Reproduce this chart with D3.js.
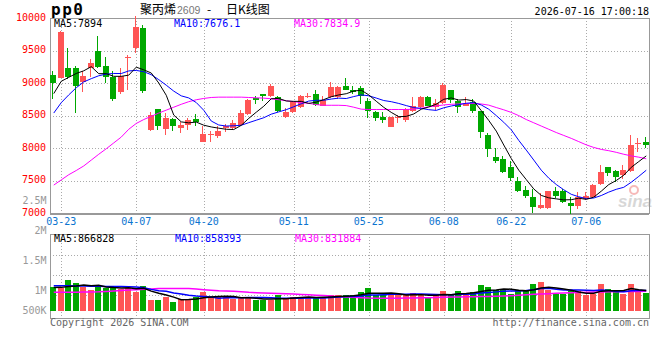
<!DOCTYPE html>
<html>
<head>
<meta charset="utf-8">
<script src="https://cdn.jsdelivr.net/npm/d3@7"></script>
<style>
body{margin:0;background:#fff}
svg text{font-family:"DejaVu Sans Mono",monospace;font-size:10px}
</style>
</head>
<body>
<script>
// trading days shown (03-20 .. 07-16)
const dates = ["03-20","03-23","03-24","03-25","03-26","03-27","03-30","03-31","04-01","04-02","04-03",
  "04-07","04-08","04-09","04-10","04-13","04-14","04-15","04-16","04-17","04-20","04-21","04-22","04-23","04-24",
  "04-27","04-28","04-29","04-30","05-06","05-07","05-08","05-11","05-12","05-13","05-14","05-15","05-18","05-19",
  "05-20","05-21","05-22","05-25","05-26","05-27","05-28","05-29","06-01","06-02","06-03","06-04","06-05","06-08",
  "06-09","06-10","06-11","06-12","06-15","06-16","06-17","06-18","06-22","06-23","06-24","06-25","06-26","06-29",
  "06-30","07-01","07-02","07-03","07-06","07-07","07-08","07-09","07-10","07-13","07-14","07-15","07-16"]
const tickDates = ["03-23","04-07","04-20","05-11","05-25","06-08","06-22","07-06"]
const priceTicks = [7000,7500,8000,8500,9000,9500,10000]
const volTicks = [500000,1000000,1500000,2000000,2500000]
const volTickText = ["500K","1M","1.5M","2M","2.5M"]

const open = [9126,9074,9238,9238,9023,9233,9500,9269,9100,8869,9390,9545,9849,8279,8602,8294,8448,8315,8356,8448,
  8100,8200,8192,8305,8305,8356,8525,8766,8833,8797,8792,8474,8551,8628,8795,8833,8654,8782,8782,8961,
  8900,8931,8731,8561,8484,8320,8470,8438,8577,8628,8792,8628,8695,8900,8731,8654,8715,8577,8207,7869,
  7833,7715,7499,7361,7243,7079,7074,7346,7346,7156,7105,7217,7243,7448,7715,7643,7586,7653,8070,8089]
const high = [9192,9800,9550,9270,9192,9372,9731,9397,9192,9233,9440,10040,9900,8551,8610,8536,8458,8407,8458,8530,
  8346,8269,8346,8371,8438,8592,8756,8807,8840,8987,8807,8618,8730,8823,8850,8900,8807,9023,8961,9085,
  8961,8951,8766,8577,8551,8479,8515,8618,8782,8807,8800,8756,9002,8900,8756,8792,8756,8577,8233,8002,
  7884,7807,7561,7422,7371,7310,7346,7397,7371,7243,7320,7330,7448,7745,7715,7669,7745,8207,8151,8166]
const low = [8760,9074,9064,8536,8869,9100,9228,8997,8720,8833,8890,9460,8849,8269,8284,8207,8259,8228,8284,8346,
  8100,8089,8151,8243,8294,8356,8510,8679,8730,8782,8551,8459,8541,8613,8770,8643,8643,8766,8756,8895,
  8833,8679,8459,8423,8382,8320,8387,8397,8551,8613,8643,8592,8679,8695,8536,8654,8536,8151,7858,7766,
  7612,7489,7320,7233,7002,7064,7064,7233,7156,6990,7064,7207,7233,7433,7576,7474,7525,7638,7946,7997]
const close = [8997,9792,9090,8962,9115,9315,9254,9090,8756,9115,9405,9870,8884,8510,8346,8459,8346,8361,8433,8407,
  8218,8210,8269,8346,8387,8541,8746,8746,8807,8961,8566,8551,8715,8807,8805,8664,8746,8936,8946,8900,
  8869,8807,8577,8459,8428,8479,8478,8602,8643,8792,8654,8695,8977,8746,8628,8695,8577,8243,7987,7807,
  7628,7535,7345,7258,7089,7130,7346,7269,7176,7105,7243,7258,7438,7638,7612,7561,7658,8053,8078,8048]
const volume = [1025000,956000,1311000,1196000,999000,884000,1055000,956000,1055000,914000,956000,811000,1055000,457000,457000,572000,371000,500000,500000,572000,
  811000,572000,572000,572000,500000,572000,542000,457000,457000,457000,658000,542000,598000,572000,572000,572000,572000,658000,658000,658000,
  658000,798000,969000,658000,658000,713000,658000,658000,756000,658000,572000,658000,841000,713000,841000,658000,798000,1097000,1012000,884000,
  884000,713000,884000,884000,1140000,1225000,884000,713000,713000,841000,841000,658000,713000,1140000,927000,841000,713000,1140000,884000,756000]

const ma5 = [8840,9030,9090,9150,9191,9255,9147,9147,9106,9106,9124,9247,9206,9157,9003,8814,8509,8404,8389,8401,
  8353,8326,8307,8290,8286,8351,8458,8553,8645,8760,8765,8726,8720,8720,8689,8708,8747,8792,8819,8838,
  8879,8892,8820,8722,8628,8550,8484,8489,8526,8599,8634,8677,8752,8773,8740,8748,8725,8578,8426,8262,
  8048,7840,7660,7515,7371,7271,7234,7218,7202,7205,7228,7210,7244,7336,7438,7501,7581,7704,7792,7880]
const ma10 = [8540,8700,8820,8930,9020,9070,9115,9140,9150,9149,9189,9197,9177,9131,9055,8969,8878,8805,8773,8702,
  8583,8417,8356,8340,8344,8352,8392,8430,8468,8523,8558,8592,8637,8683,8725,8737,8737,8756,8770,8764,
  8794,8820,8806,8771,8733,8715,8688,8655,8624,8613,8592,8581,8621,8649,8669,8691,8701,8665,8599,8501,
  8398,8282,8119,7970,7816,7660,7537,7439,7358,7288,7250,7222,7231,7269,7322,7365,7396,7474,7564,7659]
const ma30 = [7430,7510,7590,7655,7725,7815,7905,7990,8080,8170,8290,8380,8440,8490,8540,8585,8630,8675,8715,8745,
  8765,8780,8785,8785,8785,8785,8780,8775,8770,8760,8745,8730,8715,8700,8690,8670,8660,8660,8660,8655,
  8630,8600,8595,8595,8595,8595,8595,8595,8600,8615,8636,8650,8665,8675,8680,8687,8687,8680,8662,8625,
  8590,8550,8500,8440,8390,8340,8290,8240,8195,8150,8100,8050,8010,7980,7960,7935,7905,7880,7860,7835]

const vma5 = [990,1000,1040,1060,1097,1069,1089,1018,990,973,987,938,958,839,747,670,582,471,480,503,
  551,591,605,620,605,558,552,529,506,497,514,514,542,565,588,571,577,589,606,624,
  641,686,748,748,748,759,731,669,689,689,660,660,697,688,725,742,770,821,881,890,
  935,918,875,850,901,969,1003,969,935,875,798,753,753,839,856,856,867,952,901,867]
const vma10 = [1070,1070,1065,1060,1055,1050,1045,1040,1038,1035,1028,1014,988,914,860,829,760,715,659,625,
  611,587,538,550,554,554,571,567,563,551,536,533,536,536,543,543,546,566,586,606,
  606,632,669,677,686,700,709,709,718,718,710,696,683,689,707,701,715,759,785,807,
  839,844,848,866,895,952,961,922,892,888,884,878,861,887,866,827,810,853,870,861]
const vma30 = [786,788,790,795,800,805,811,828,845,865,884,902,920,935,950,954,956,954,950,925,
  900,878,855,842,830,808,786,773,760,750,740,726,713,696,680,665,650,625,600,586,
  572,556,540,534,529,532,535,540,545,552,560,570,580,585,590,594,598,604,610,620,
  629,645,660,680,700,715,730,745,760,772,785,792,800,805,811,815,820,824,828,832]

let upColor = '#ff5555', downColor = '#00a800'
let W = 660, H = 360
let left = 50, right = 649
let pTop = 18.3, pBot = 213, vTop = 234.3, vBot = 318.3

let svg = d3.select('body').append('svg')
  .attr('width', W).attr('height', H)
  .style('background', '#fff')

let x = d3.scaleBand(dates, [50, 650]).paddingInner(0.2).paddingOuter(0.1)
let cx = d => x(d) + x.bandwidth() / 2
let yp = d3.scaleLinear([7000, 10000], [pBot, pTop])
let yv = d3.scaleLinear([0, 3275000], [310.7, vTop])
// sina prints the volume labels on their own uneven spacing
let yvLab = d3.scaleLinear([500000, 1000000, 2500000], [310.7, 290.7, 200.7])
let gridV = d3.scaleLinear([0, 4], [315.5, vTop])

// grid
let grid = svg.append('g').attr('stroke', '#aaa').attr('stroke-dasharray', '1,2').attr('shape-rendering', 'crispEdges')
grid.selectAll('.hp').data(priceTicks.slice(1, -1)).join('line')
  .attr('x1', left).attr('x2', right)
  .attr('y1', d => Math.round(yp(d)) + 0.5).attr('y2', d => Math.round(yp(d)) + 0.5)
grid.selectAll('.hv').data([1, 2, 3]).join('line')
  .attr('x1', left).attr('x2', right)
  .attr('y1', d => Math.round(gridV(d)) + 0.5).attr('y2', d => Math.round(gridV(d)) + 0.5)
tickDates.forEach(t => {
  let xx = Math.round(cx(t)) + 0.5
  grid.append('line').attr('x1', xx).attr('x2', xx).attr('y1', pTop).attr('y2', pBot)
  grid.append('line').attr('x1', xx).attr('x2', xx).attr('y1', vTop).attr('y2', vBot)
})

// sina watermark
let wm = svg.append('g').attr('opacity', 0.55)
wm.append('circle').attr('cx', 634).attr('cy', 190).attr('r', 4)
  .attr('fill', 'none').attr('stroke', '#f08080').attr('stroke-width', 2)
wm.append('text').attr('x', 618).attr('y', 207)
  .style('font-family', '"Liberation Sans", sans-serif').style('font-size', '17px')
  .style('font-style', 'italic').style('font-weight', 'bold')
  .attr('fill', '#b8b8b8').text('sina')

// frames
let frame = svg.append('g').attr('fill', 'none').attr('stroke', '#999').attr('shape-rendering', 'crispEdges')
frame.append('rect').attr('x', left).attr('y', pTop).attr('width', right - left).attr('height', pBot - pTop)
frame.append('rect').attr('x', left).attr('y', vTop).attr('width', right - left).attr('height', vBot - vTop)
frame.append('line').attr('x1', left).attr('x2', right).attr('y1', pBot + 1).attr('y2', pBot + 1)

// candles
let candles = svg.append('g').attr('shape-rendering', 'crispEdges')
dates.forEach((d, i) => {
  let col = close[i] >= open[i] ? upColor : downColor
  let x0 = Math.floor(x(d))
  candles.append('line')
    .attr('x1', x0 + 2.5).attr('x2', x0 + 2.5)
    .attr('y1', yp(high[i])).attr('y2', yp(low[i]))
    .attr('stroke', col)
  let top = yp(Math.max(open[i], close[i])), bot = yp(Math.min(open[i], close[i]))
  candles.append('rect')
    .attr('x', x0).attr('width', 6)
    .attr('y', top).attr('height', Math.max(1, bot - top))
    .attr('fill', col)
})

// volume bars
svg.append('g').attr('shape-rendering', 'crispEdges')
  .selectAll('rect').data(volume).join('rect')
  .attr('x', (d, i) => Math.floor(x(dates[i])))
  .attr('width', 6)
  .attr('y', d => yv(d))
  .attr('height', d => yv(0) - yv(d))
  .attr('fill', (d, i) => close[i] >= open[i] ? upColor : downColor)

// moving averages
let pLine = d3.line().x((d, i) => cx(dates[i])).y(d => yp(d))
let vLine = d3.line().x((d, i) => cx(dates[i])).y(d => yv(d * 1000))
let maColors = ['#000', '#0000ff', '#ff00ff']
;[ma30, ma10, ma5].forEach((m, k) => {
  svg.append('path').attr('d', pLine(m)).attr('fill', 'none')
    .attr('stroke', maColors[2 - k]).attr('stroke-width', 1)
})
;[vma30, vma10, vma5].forEach((m, k) => {
  svg.append('path').attr('d', vLine(m)).attr('fill', 'none')
    .attr('stroke', maColors[2 - k]).attr('stroke-width', 1.5)
})

// axes labels
let xAxis = svg.append('g').attr('transform', `translate(0,${pBot})`)
  .call(d3.axisBottom(x).tickValues(tickDates).tickSize(0).tickPadding(5))
xAxis.select('.domain').remove()
xAxis.selectAll('text').attr('fill', '#0b74d0')
  .style('font-family', '"DejaVu Sans Mono", monospace').style('font-size', '10px')

let yAxis = svg.append('g').attr('transform', `translate(${left},0)`)
  .call(d3.axisLeft(yp).tickValues(priceTicks).tickSize(0).tickPadding(4).tickFormat(d3.format('d')))
yAxis.select('.domain').remove()
yAxis.selectAll('text').attr('fill', '#f00').attr('dy', '0.2em')
  .style('font-family', '"DejaVu Sans Mono", monospace').style('font-size', '10px')

svg.append('g').selectAll('text').data(volTicks).join('text')
  .attr('x', 46.5).attr('y', d => yvLab(d) + 3.3)
  .attr('text-anchor', 'end').attr('fill', '#999')
  .text((d, i) => volTickText[i])

// legends
let legP = [['MA5:7894', 54, '#000'], ['MA10:7676.1', 174, '#0000ff'], ['MA30:7834.9', 294, '#ff00ff']]
let legV = [['MA5:866828', 54, '#000'], ['MA10:858393', 175, '#0000ff'], ['MA30:831884', 295, '#ff00ff']]
legP.forEach(l => svg.append('text').attr('x', l[1]).attr('y', 27).attr('fill', l[2]).text(l[0]))
legV.forEach(l => svg.append('text').attr('x', l[1]).attr('y', 241.5).attr('fill', l[2]).text(l[0]))

// header
svg.append('text').attr('x', 51).attr('y', 15)
  .style('font-size', '16px').style('font-weight', 'bold').attr('letter-spacing', 1.5)
  .text('pp0')
let title = svg.append('text').attr('y', 14)
  .style('font-family', '"Noto Sans CJK SC", sans-serif').style('font-size', '12px')
title.append('tspan').attr('x', 140).text('聚丙烯')
title.append('tspan').attr('x', 177).attr('fill', '#777')
  .style('font-family', '"Liberation Sans", sans-serif').style('font-size', '10.5px').text('2609')
title.append('tspan').attr('x', 207).text('-')
title.append('tspan').attr('x', 226).text('日K线图')
svg.append('text').attr('x', 649).attr('y', 15).attr('text-anchor', 'end').text('2026-07-16 17:00:18')

// footer
svg.append('text').attr('x', 50).attr('y', 325.5).attr('fill', '#666').text('Copyright 2026 SINA.COM')
svg.append('text').attr('x', 649).attr('y', 325.5).attr('text-anchor', 'end').attr('fill', '#666')
  .text('http://finance.sina.com.cn')
</script>
</body>
</html>
